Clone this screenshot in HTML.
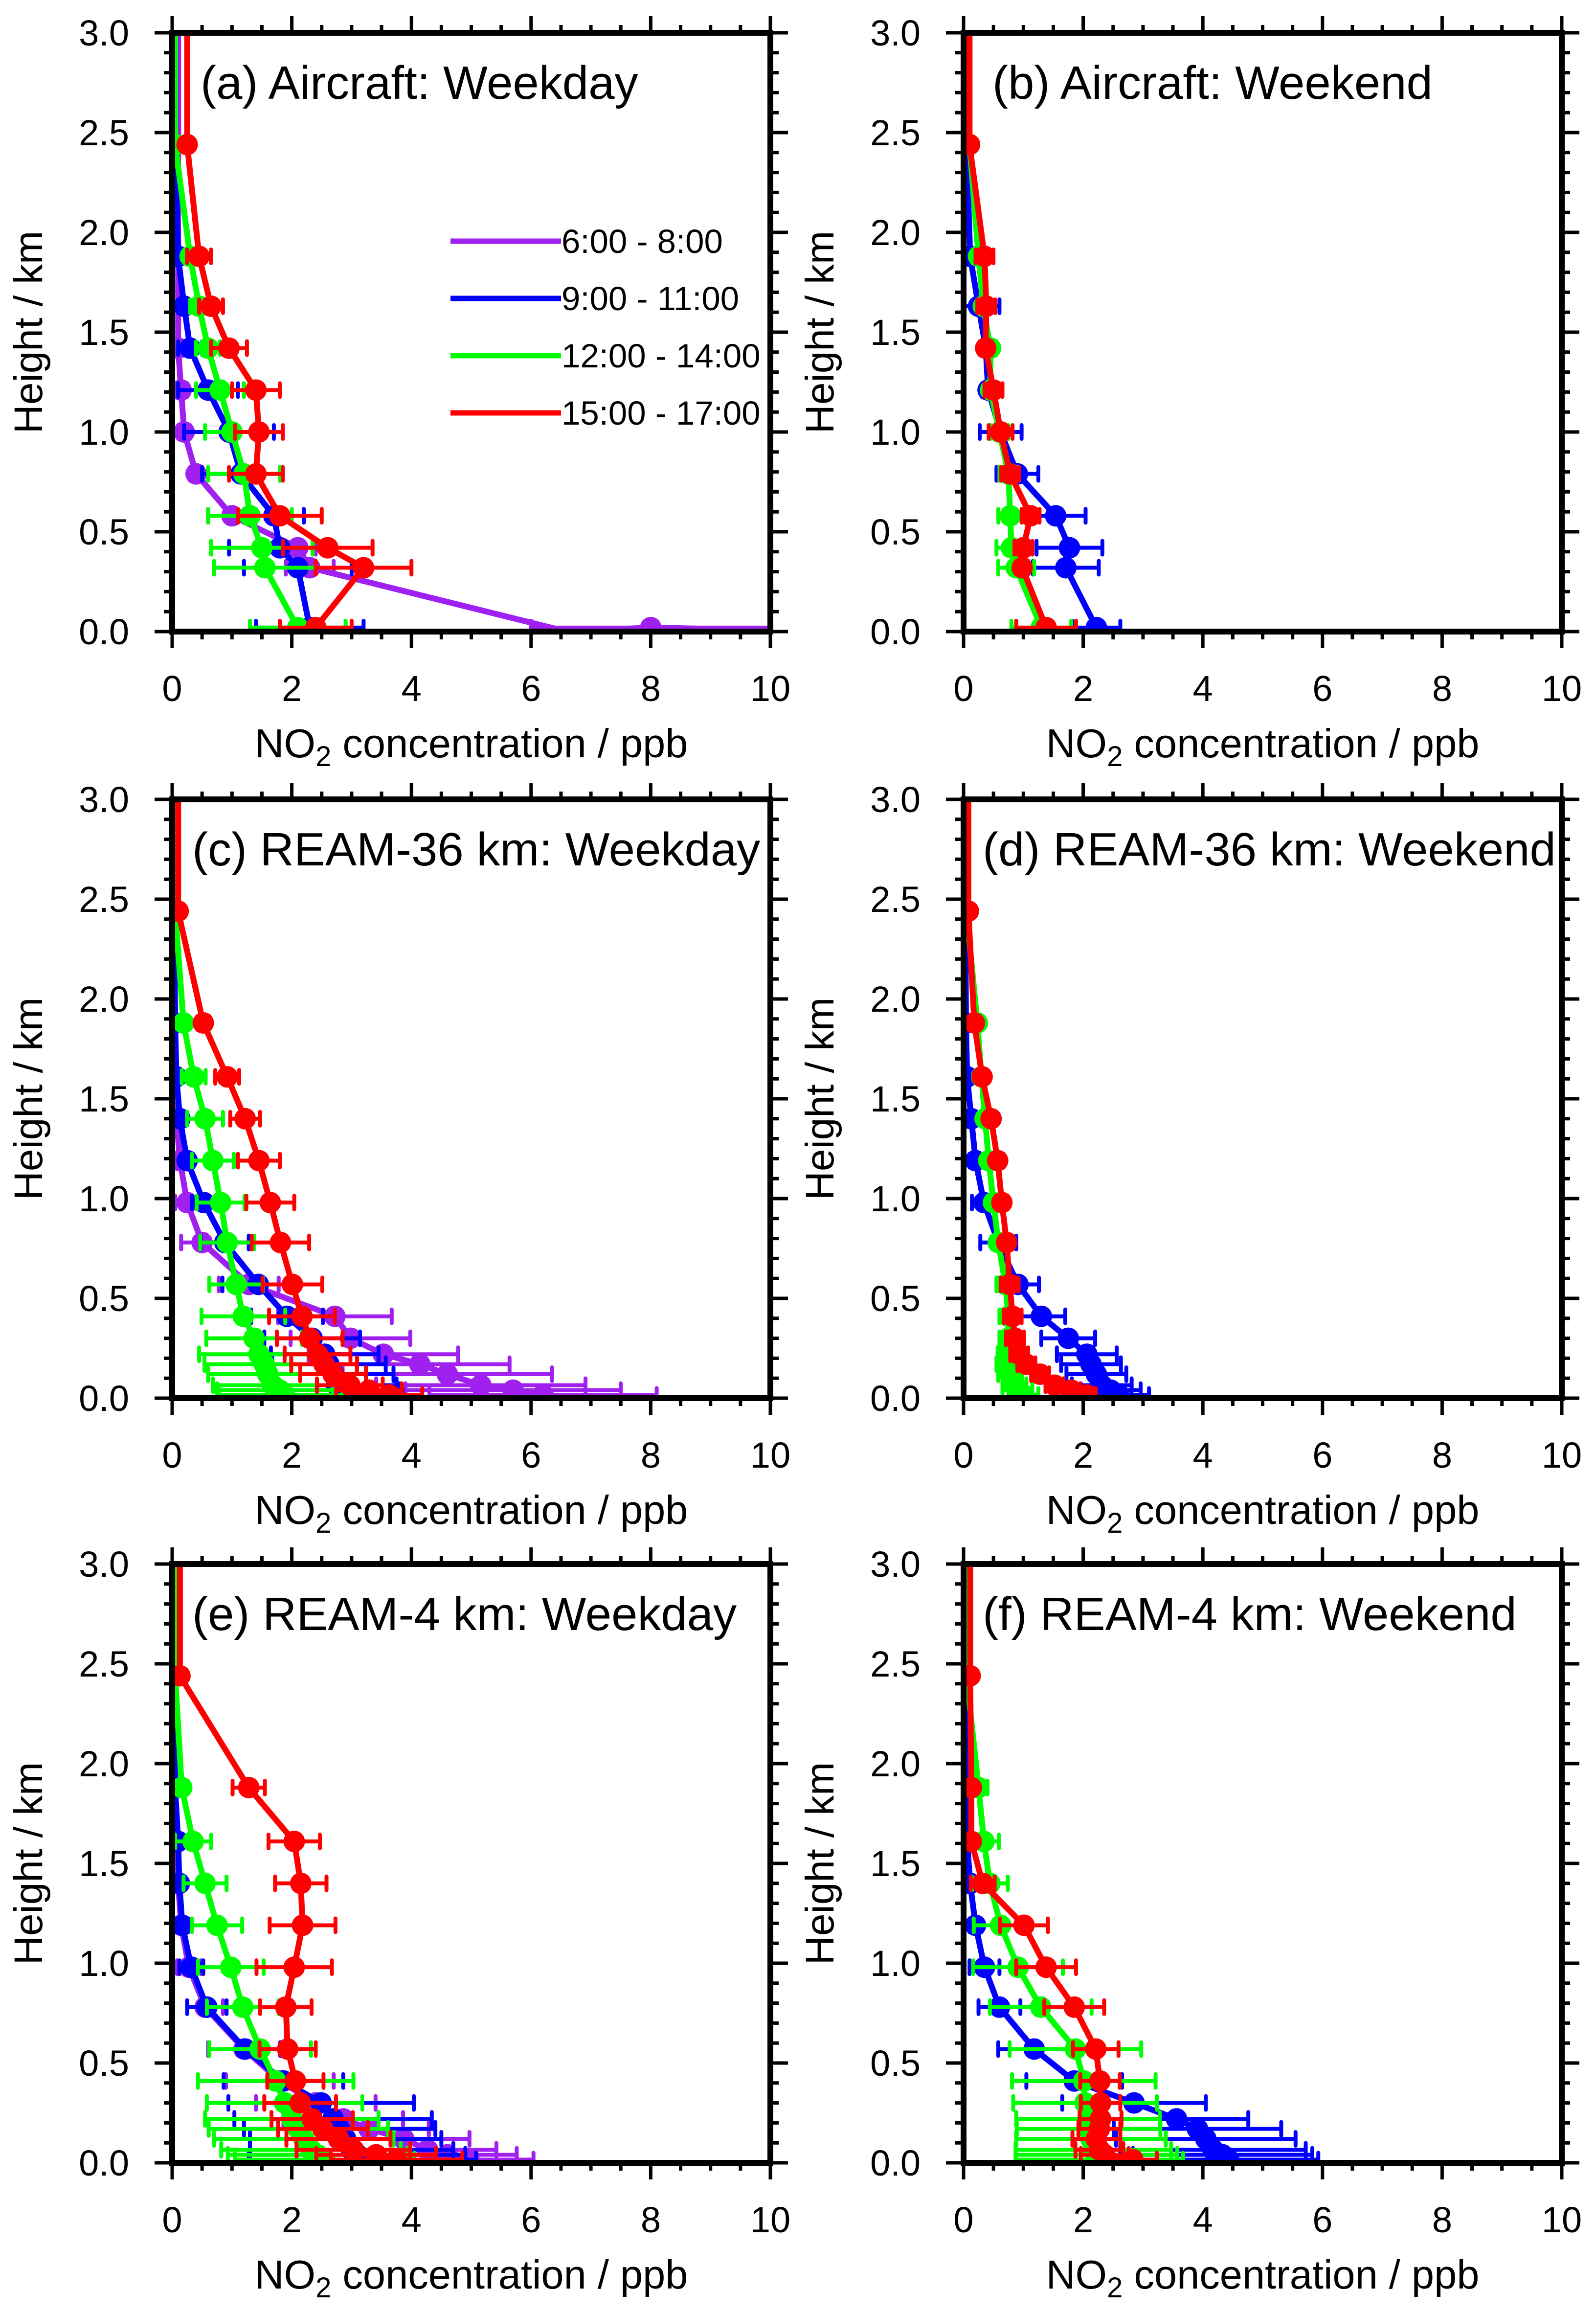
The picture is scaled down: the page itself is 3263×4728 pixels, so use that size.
<!DOCTYPE html>
<html><head><meta charset="utf-8"><style>html,body{margin:0;padding:0;background:#fff}svg{display:block}</style></head>
<body>
<svg id="fig" xmlns="http://www.w3.org/2000/svg" width="3263" height="4728" viewBox="0 0 3263 4728" font-family="Liberation Sans, sans-serif"></svg>
<script>
// ---- data ----
const xTicks = [0, 2, 4, 6, 8, 10];
const yTicks = ["0.0", "0.5", "1.0", "1.5", "2.0", "2.5", "3.0"];
const legendLabels = ["6:00 - 8:00", "9:00 - 11:00", "12:00 - 14:00", "15:00 - 17:00"];
const panelTitles = ["(a) Aircraft: Weekday", "(b) Aircraft: Weekend", "(c) REAM-36 km: Weekday", "(d) REAM-36 km: Weekend", "(e) REAM-4 km: Weekday", "(f) REAM-4 km: Weekend"];
// aircraft heights (km)
const aircraftHeights = [0.02, 0.32, 0.42, 0.58, 0.79, 1.0, 1.21, 1.42, 1.63, 1.88, 2.44, 3.0];
// model levels (km)
const modelHeights = [0.016, 0.04, 0.065, 0.12, 0.17, 0.22, 0.30, 0.41, 0.57, 0.78, 0.98, 1.19, 1.40, 1.61, 1.88, 2.44, 3.0];
// panel a
const aPurpleH = [0, 0.02, 0, 0.32, 0.42, 0.58, 0.79, 1.0, 1.21, 1.42, 3.0];
const aPurpleV = [11, 8.0, 6.6, 2.3, 2.1, 1.0, 0.4, 0.2, 0.15, 0.1, 0.1];
const aPurpleE = [null, 2.0, null, 0.4, 0.3, 0.4, 0.1, 0.1, 0.1, 0.05, null];
const aBlueV = [2.3, 2.1, 1.8, 1.7, 1.15, 0.95, 0.6, 0.3, 0.2, 0.1, 0.05, 0.05];
const aBlueE = [0.9, 0.9, 0.85, 0.5, 0.65, 0.75, 0.5, 0.2, 0.1, 0.05, 0, null];
const aGreenV = [2.1, 1.55, 1.5, 1.3, 1.2, 1.0, 0.8, 0.6, 0.45, 0.3, 0.05, 0.05];
const aGreenE = [0.8, 0.85, 0.85, 0.7, 0.6, 0.45, 0.4, 0.2, 0.15, 0.1, 0, null];
const aRedV = [2.4, 3.2, 2.6, 1.8, 1.4, 1.45, 1.4, 0.95, 0.65, 0.45, 0.25, 0.25];
const aRedE = [0.6, 0.8, 0.75, 0.7, 0.45, 0.4, 0.4, 0.3, 0.2, 0.2, 0, null];
// panel b
const bBlueV = [2.22, 1.71, 1.77, 1.54, 0.9, 0.62, 0.41, 0.37, 0.25, 0.11, 0.05, 0.08];
const bBlueE = [0.4, 0.55, 0.55, 0.5, 0.35, 0.35, 0.1, 0.1, 0.35, 0.1, 0, null];
const bGreenV = [1.3, 0.88, 0.8, 0.78, 0.75, 0.6, 0.45, 0.45, 0.33, 0.25, 0.1, 0.1];
const bGreenE = [0.5, 0.3, 0.25, 0.2, 0.15, 0.15, 0.1, 0.1, 0.1, 0.1, 0, null];
const bRedV = [1.38, 0.98, 1.0, 1.12, 0.78, 0.62, 0.5, 0.37, 0.38, 0.35, 0.1, 0.1];
const bRedE = [0.5, 0.1, 0.15, 0.15, 0.15, 0.2, 0.15, 0.1, 0.15, 0.15, 0, null];
// panel c
const cPurpleV = [6.2, 5.7, 5.16, 4.6, 4.14, 3.53, 2.98, 2.72, 1.28, 0.5, 0.25, 0.13, 0.07, 0.05, 0.04, 0.03, 0.03];
const cPurpleE = [1.9, 1.8, 1.75, 1.75, 1.5, 1.25, 1.0, 0.95, 0.5, 0.35, 0.2, 0.1, 0.05, 0, 0, 0, null];
const cBlueV = [2.85, 2.8, 2.75, 2.7, 2.62, 2.55, 2.34, 1.92, 1.44, 0.88, 0.53, 0.25, 0.13, 0.07, 0.05, 0.03, 0.03];
const cBlueE = [1.0, 1.0, 1.0, 1.0, 0.95, 0.9, 0.8, 0.6, 0.6, 0.4, 0.2, 0.1, 0.05, 0, 0, 0, null];
const cGreenV = [1.88, 1.8, 1.68, 1.6, 1.54, 1.45, 1.37, 1.19, 1.07, 0.92, 0.81, 0.68, 0.55, 0.36, 0.19, 0.05, 0.05];
const cGreenE = [1.1, 1.05, 1.0, 1.0, 1.0, 1.0, 0.8, 0.7, 0.45, 0.45, 0.4, 0.35, 0.3, 0.2, 0.05, 0, null];
const cRedV = [3.63, 3.29, 2.97, 2.69, 2.54, 2.43, 2.3, 2.17, 2.01, 1.81, 1.64, 1.45, 1.22, 0.92, 0.52, 0.1, 0.1];
const cRedE = [0.55, 0.55, 0.55, 0.55, 0.55, 0.55, 0.55, 0.55, 0.5, 0.48, 0.4, 0.35, 0.25, 0.2, 0.1, 0, null];
// panel d
const dBlueV = [2.6, 2.46, 2.31, 2.22, 2.13, 2.06, 1.75, 1.3, 0.91, 0.58, 0.34, 0.2, 0.13, 0.06, 0.04, 0.03, 0.03];
const dBlueE = [0.5, 0.5, 0.5, 0.5, 0.5, 0.5, 0.45, 0.4, 0.35, 0.3, 0.2, 0.1, 0.05, 0, 0, 0, null];
const dGreenV = [1.0, 0.9, 0.85, 0.78, 0.75, 0.72, 0.75, 0.75, 0.7, 0.58, 0.5, 0.42, 0.36, 0.3, 0.23, 0.05, 0.05];
const dGreenE = [0.25, 0.25, 0.2, 0.2, 0.2, 0.15, 0.15, 0.15, 0.15, 0.1, 0.1, 0.1, 0.05, 0.05, 0.05, 0, null];
const dRedV = [2.06, 1.8, 1.52, 1.28, 1.05, 0.93, 0.86, 0.82, 0.77, 0.72, 0.64, 0.57, 0.46, 0.31, 0.18, 0.08, 0.08];
const dRedE = [0.15, 0.15, 0.15, 0.15, 0.15, 0.15, 0.15, 0.15, 0.15, 0.1, 0.1, 0.1, 0.05, 0.05, 0.05, 0, null];
// panel e
const ePurpleV = [4.96, 4.6, 4.27, 3.87, 3.29, 2.86, 2.4, 1.8, 1.2, 0.55, 0.28, 0.15, 0.1, 0.08, 0.05, 0.03, 0.03];
const ePurpleE = [1.08, 1.16, 1.15, 1.1, 1.0, 1.0, 1.0, 0.9, 0.6, 0.3, 0.2, 0.1, 0.05, 0, 0, 0, null];
const eBlueV = [3.18, 3.1, 3.0, 2.9, 2.8, 2.69, 2.49, 1.86, 1.22, 0.58, 0.32, 0.17, 0.12, 0.1, 0.05, 0.03, 0.03];
const eBlueE = [1.9, 1.8, 1.7, 1.6, 1.6, 1.65, 1.55, 1.0, 0.6, 0.33, 0.2, 0.1, 0.05, 0.05, 0, 0, null];
const eGreenV = [2.55, 2.43, 2.32, 2.2, 2.11, 2.0, 1.88, 1.73, 1.47, 1.18, 0.98, 0.75, 0.55, 0.35, 0.16, 0.05, 0.05];
const eGreenE = [1.5, 1.5, 1.5, 1.5, 1.5, 1.45, 1.3, 1.3, 0.85, 0.6, 0.55, 0.42, 0.36, 0.3, 0.1, 0, null];
const eRedV = [3.75, 3.41, 3.03, 2.78, 2.52, 2.34, 2.14, 2.06, 1.93, 1.9, 2.04, 2.18, 2.15, 2.04, 1.28, 0.13, 0.13];
const eRedE = [1.1, 1.0, 0.95, 0.87, 0.75, 0.68, 0.6, 0.47, 0.47, 0.43, 0.63, 0.55, 0.43, 0.43, 0.27, 0, null];
// panel f
const fBlueV = [4.43, 4.33, 4.17, 4.05, 3.91, 3.56, 2.85, 1.85, 1.18, 0.6, 0.35, 0.2, 0.11, 0.06, 0.04, 0.03, 0.03];
const fBlueE = [1.5, 1.5, 1.55, 1.5, 1.4, 1.2, 1.2, 0.8, 0.6, 0.35, 0.25, 0.1, 0.05, 0, 0, 0, null];
const fGreenV = [2.27, 2.22, 2.17, 2.13, 2.09, 2.08, 2.03, 2.01, 1.87, 1.29, 0.91, 0.62, 0.44, 0.34, 0.25, 0.05, 0.05];
const fGreenE = [1.4, 1.35, 1.3, 1.25, 1.2, 1.2, 1.2, 1.2, 1.1, 0.85, 0.75, 0.45, 0.3, 0.25, 0.15, 0, null];
const fRedV = [2.83, 2.36, 2.27, 2.22, 2.27, 2.29, 2.29, 2.28, 2.21, 1.85, 1.38, 1.01, 0.32, 0.13, 0.13, 0.11, 0.11];
const fRedE = [0.4, 0.4, 0.4, 0.4, 0.35, 0.35, 0.33, 0.33, 0.38, 0.5, 0.5, 0.4, 0.2, 0.05, 0.05, 0, null];

const COLORS = {purple: "#a020f0", blue: "#0000ff", green: "#00ff00", red: "#ff0000"};

// ---- layout ----
const NS = "http://www.w3.org/2000/svg";
const svg = document.getElementById("fig");
const colX = [352, 1970], rowY = [67, 1634, 3197], PW = 1223, PH = 1224;
const XMAX = 10, YMAX = 3;

function mk(tag, attrs, parent) {
  const e = document.createElementNS(NS, tag);
  for (const k in attrs) e.setAttribute(k, attrs[k]);
  (parent || svg).appendChild(e);
  return e;
}

const panels = [
  {series: [["purple", aPurpleH, aPurpleV, aPurpleE], ["blue", aircraftHeights, aBlueV, aBlueE], ["green", aircraftHeights, aGreenV, aGreenE], ["red", aircraftHeights, aRedV, aRedE]], tx: 58, legend: true},
  {series: [["blue", aircraftHeights, bBlueV, bBlueE], ["green", aircraftHeights, bGreenV, bGreenE], ["red", aircraftHeights, bRedV, bRedE]], tx: 59},
  {series: [["purple", modelHeights, cPurpleV, cPurpleE], ["blue", modelHeights, cBlueV, cBlueE], ["green", modelHeights, cGreenV, cGreenE], ["red", modelHeights, cRedV, cRedE]], tx: 41},
  {series: [["blue", modelHeights, dBlueV, dBlueE], ["green", modelHeights, dGreenV, dGreenE], ["red", modelHeights, dRedV, dRedE]], tx: 39},
  {series: [["purple", modelHeights, ePurpleV, ePurpleE], ["blue", modelHeights, eBlueV, eBlueE], ["green", modelHeights, eGreenV, eGreenE], ["red", modelHeights, eRedV, eRedE]], tx: 41},
  {series: [["blue", modelHeights, fBlueV, fBlueE], ["green", modelHeights, fGreenV, fGreenE], ["red", modelHeights, fRedV, fRedE]], tx: 39}
];

panels.forEach((p, i) => {
  const x0 = colX[i % 2], y0 = rowY[Math.floor(i / 2)];
  const sx = v => x0 + v / XMAX * PW;
  const sy = h => y0 + PH - h / YMAX * PH;
  const g = mk("g", {});
  
  
  const cid = "clip" + i;
  const cp = mk("clipPath", {id: cid}, g);
  mk("rect", {x: x0, y: y0, width: PW, height: PH}, cp);
  const plot = mk("g", {"clip-path": "url(#" + cid + ")"}, g);
  
  

  p.series.forEach(([col, H, V, E]) => {
    const sg = mk("g", {}, plot);
    
    
    const c = COLORS[col];
    const pts = V.map((v, k) => sx(v).toFixed(1) + "," + sy(H[k]).toFixed(1)).join(" ");
    const pl = mk("polyline", {points: pts, fill: "none", stroke: c, "stroke-width": 12, "stroke-linejoin": "round"}, sg);
    
    
    V.forEach((v, k) => {
      const e = E[k];
      if (e === null || e === undefined) return;
      const cx = sx(v), cy = sy(H[k]);
      if (e > 0) {
        const a = sx(v - e), b = sx(v + e);
        const eb = mk("path", {d: `M${a},${cy}H${b}M${a},${cy - 14}V${cy + 14}M${b},${cy - 14}V${cy + 14}`, stroke: c, "stroke-width": 8, fill: "none", "stroke-linecap": "round"}, sg);
        
        
      }
      const m = mk("circle", {cx: cx, cy: cy, r: 22, fill: c}, sg);
      
      
    });
  });

  // frame
  const fr = mk("rect", {x: x0, y: y0, width: PW, height: PH, fill: "none", stroke: "#000", "stroke-width": 12}, g);
  
  
  // ticks
  let d = "";
  for (let k = 0; k <= 20; k++) {
    const x = sx(k * 0.5), L = (k % 4 === 0) ? 34 : 16;
    d += `M${x},${y0 + PH}v${L}M${x},${y0}v${-L}`;
  }
  for (let k = 0; k <= 30; k++) {
    const y = sy(k * 0.1), L = (k % 5 === 0) ? 36 : 17;
    d += `M${x0},${y}h${-L}M${x0 + PW},${y}h${L}`;
  }
  const tk = mk("path", {d: d, stroke: "#000", "stroke-width": 7, fill: "none"}, g);
  
  
  xTicks.forEach(v => {
    const t = mk("text", {x: sx(v), y: y0 + PH + 142, "font-size": 74, "text-anchor": "middle"}, g);
    t.textContent = v;
    
    
  });
  yTicks.forEach(s => {
    const t = mk("text", {x: x0 - 88, y: sy(parseFloat(s)) + 26, "font-size": 74, "text-anchor": "end"}, g);
    t.textContent = s;
    
    
  });
  const xt = mk("text", {x: x0 + PW / 2, y: y0 + PH + 257, "font-size": 83, "text-anchor": "middle"}, g);
  xt.innerHTML = 'NO<tspan font-size="58" dy="18">2</tspan><tspan dy="-18"> concentration / ppb</tspan>';
  
  
  const ycx = x0 - 266, ycy = y0 + PH / 2;
  const yt = mk("text", {x: ycx, y: ycy, "font-size": 82, "text-anchor": "middle", transform: `rotate(-90 ${ycx} ${ycy})`}, g);
  yt.textContent = "Height / km";
  
  
  const tt = mk("text", {x: x0 + p.tx, y: y0 + 135, "font-size": 96}, g);
  tt.textContent = panelTitles[i];
  
  

  if (p.legend) {
    const lg = mk("g", {}, g);
    
    
    ["purple", "blue", "green", "red"].forEach((col, k) => {
      const y = y0 + 426 + k * 117;
      const ln = mk("line", {x1: 921, x2: 1147, y1: y, y2: y, stroke: COLORS[col], "stroke-width": 11}, lg);
      
      
      const t = mk("text", {x: 1148, y: y + 24, "font-size": 69}, lg);
      t.textContent = legendLabels[k];
      
      
    });
  }
});
</script>
</body></html>
